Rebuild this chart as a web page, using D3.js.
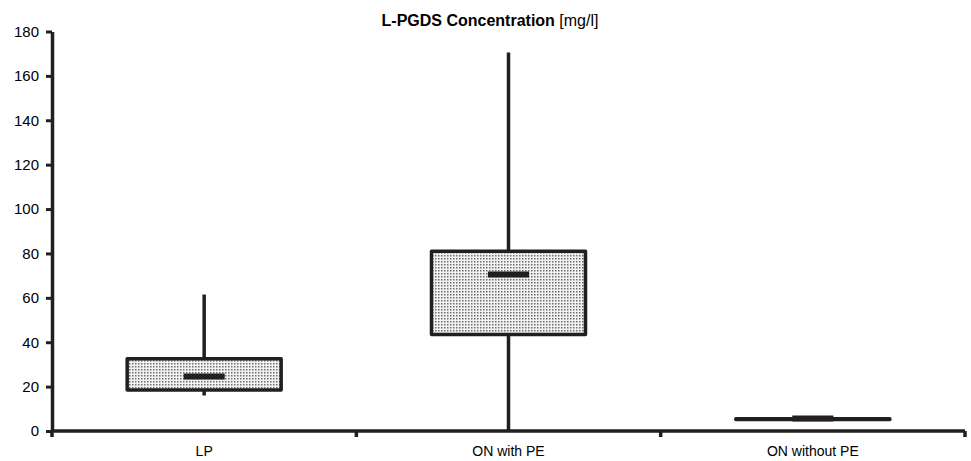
<!DOCTYPE html>
<html>
<head>
<meta charset="utf-8">
<script src="https://cdn.jsdelivr.net/npm/d3@7"></script>
<style>
  body { margin: 0; background: #fff; }
  svg { display: block; font-family: "Liberation Sans", Arial, sans-serif; }
</style>
</head>
<body>
<svg id="chart"></svg>
<script>
// data
const groups = ["LP", "ON with PE", "ON without PE"];
const whiskerLow = [16, 0, 5.2];
const q1 = [18.5, 43.5, 5.2];
const median = [24.5, 70.5, 5.6];
const q3 = [32.5, 81, 5.5];
const whiskerHigh = [61.5, 170.5, 5.5];
const yTicks = [0, 20, 40, 60, 80, 100, 120, 140, 160, 180];

const width = 971;
const height = 461;
const margin = {top: 31.5, right: 6, bottom: 30, left: 52};
const ink = "#231f20";

const svg = d3.select("#chart")
              .attr("width", width)
              .attr("height", height);

// stippled fill like the original
const defs = svg.append("defs");
const pat = defs.append("pattern")
                .attr("id", "dots")
                .attr("width", 3)
                .attr("height", 3)
                .attr("patternUnits", "userSpaceOnUse");
pat.append("rect").attr("width", 3).attr("height", 3).attr("fill", "#f2f2f2");
pat.append("rect").attr("width", 1.5).attr("height", 1.5).attr("fill", "#6e6e6e");

const data = groups.map((g, i) => ({
  name: g,
  lo: whiskerLow[i], q1: q1[i], med: median[i], q3: q3[i], hi: whiskerHigh[i]
}));

const x = d3.scaleBand()
            .domain(groups)
            .range([margin.left, width - margin.right])
            .padding(0);
const y = d3.scaleLinear()
            .domain([0, 180])
            .range([height - margin.bottom, margin.top]);

const boxW = x.bandwidth() * 0.506;
const medW = x.bandwidth() * 0.135;

// title
svg.append("text")
    .attr("x", 490)
    .attr("y", 26)
    .attr("text-anchor", "middle")
    .attr("font-size", 16)
    .attr("fill", "#000")
    .call(t => {
      t.append("tspan").attr("font-weight", "bold").text("L-PGDS Concentration ");
      t.append("tspan").text("[mg/l]");
    });

// whiskers
const g = svg.append("g");
g.selectAll("line.whisker")
  .data(data)
  .enter()
  .append("line")
    .attr("class", "whisker")
    .attr("x1", d => x(d.name) + x.bandwidth() / 2)
    .attr("x2", d => x(d.name) + x.bandwidth() / 2)
    .attr("y1", d => y(d.lo))
    .attr("y2", d => y(d.hi))
    .attr("stroke", ink)
    .attr("stroke-width", 3.5);

// boxes
g.selectAll("rect.box")
  .data(data)
  .enter()
  .append("rect")
    .attr("class", "box")
    .attr("x", d => x(d.name) + (x.bandwidth() - boxW) / 2)
    .attr("width", boxW)
    .attr("y", d => y(d.q3))
    .attr("height", d => Math.max(0.3, y(d.q1) - y(d.q3)))
    .attr("fill", "url(#dots)")
    .attr("stroke", ink)
    .attr("stroke-width", 3.5)
    .attr("stroke-linejoin", "round");

// medians
g.selectAll("line.median")
  .data(data)
  .enter()
  .append("line")
    .attr("class", "median")
    .attr("x1", d => x(d.name) + (x.bandwidth() - medW) / 2)
    .attr("x2", d => x(d.name) + (x.bandwidth() + medW) / 2)
    .attr("y1", d => y(d.med))
    .attr("y2", d => y(d.med))
    .attr("stroke", ink)
    .attr("stroke-width", 6);

// y axis
const yAxis = svg.append("g")
    .attr("transform", `translate(${margin.left},0)`)
    .call(d3.axisLeft(y).tickValues(yTicks).tickSize(6).tickPadding(7).tickSizeOuter(0));
yAxis.select(".domain").attr("stroke", ink).attr("stroke-width", 3.5);
yAxis.selectAll(".tick line").attr("stroke", ink).attr("stroke-width", 3);
yAxis.selectAll(".tick text")
    .attr("font-size", 15)
    .attr("fill", "#000")
    .attr("font-family", "Liberation Sans, Arial, sans-serif");

// x axis with ticks at band boundaries
const xAxis = svg.append("g")
    .attr("transform", `translate(0,${height - margin.bottom})`);
xAxis.append("line")
    .attr("x1", margin.left)
    .attr("x2", width - margin.right)
    .attr("stroke", ink)
    .attr("stroke-width", 3.5);
const bounds = groups.map(d => x(d)).concat([x(groups[groups.length - 1]) + x.bandwidth()]);
xAxis.selectAll("line.tk")
  .data(bounds)
  .enter()
  .append("line")
    .attr("class", "tk")
    .attr("x1", d => d)
    .attr("x2", d => d)
    .attr("y1", 0)
    .attr("y2", 6)
    .attr("stroke", ink)
    .attr("stroke-width", 3.5);
xAxis.selectAll("text")
  .data(groups)
  .enter()
  .append("text")
    .attr("x", d => x(d) + x.bandwidth() / 2)
    .attr("y", 25)
    .attr("text-anchor", "middle")
    .attr("font-size", 14)
    .attr("fill", "#000")
    .text(d => d);
</script>
</body>
</html>
